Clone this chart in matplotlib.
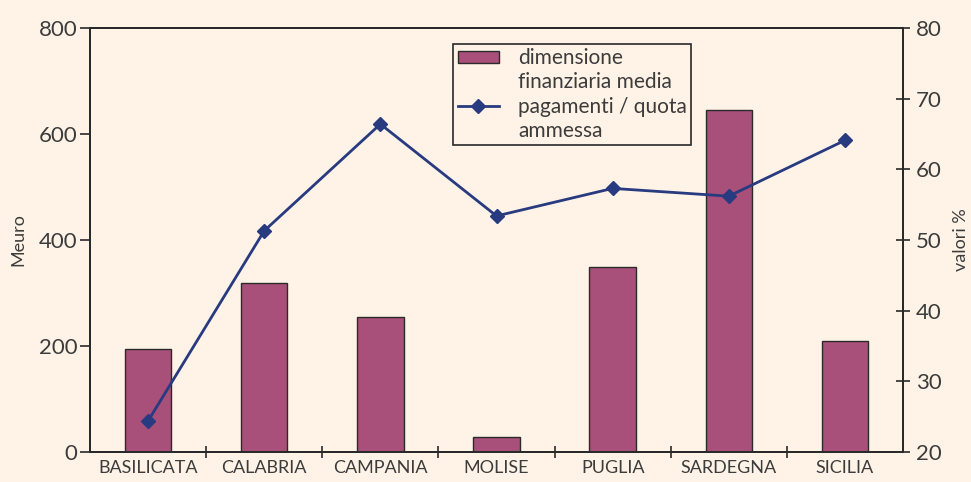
import matplotlib
matplotlib.use("Agg")
import matplotlib.pyplot as plt
from matplotlib.lines import Line2D
import numpy as np

regions = ["BASILICATA", "CALABRIA", "CAMPANIA", "MOLISE", "PUGLIA", "SARDEGNA", "SICILIA"]
dimensione = [194, 319, 255, 28, 349, 645, 209]
pagamenti = [24.4, 51.3, 66.4, 53.4, 57.3, 56.2, 64.1]

bg = "#FEF3E6"
bar_color = "#A84F7A"
line_color = "#283A80"
txt = "#3c3c3c"

plt.rcParams['font.family'] = ['Lato', 'DejaVu Sans']

fig = plt.figure(figsize=(9.71, 4.82), dpi=100, facecolor=bg)
ax = fig.add_axes([0.0927, 0.0622, 0.8373, 0.8798])
ax.set_facecolor(bg)
x = np.arange(len(regions))
bars = ax.bar(x, dimensione, width=0.4, color=bar_color, edgecolor="#2a2a2a", linewidth=1.0, zorder=2)
ax.set_xlim(-0.5, len(regions) - 0.5)
ax.set_ylim(0, 800)
ax.set_yticks([0, 200, 400, 600, 800])
ax.set_xticks(x)
ax.set_xticklabels(regions)
ax.set_xticks(np.arange(0.5, len(regions) - 0.5, 1), minor=True)
ax.tick_params(axis='x', which='major', length=0, pad=6, labelsize=13, labelcolor=txt)
ax.tick_params(axis='x', which='minor', length=9, direction='inout', width=1.2, color="#2a2a2a")
ax.tick_params(axis='y', length=7, direction='out', width=1.2, labelsize=16, labelcolor=txt,
               color="#2a2a2a", pad=2)
for s in ax.spines.values():
    s.set_color("#2a2a2a")
    s.set_linewidth(1.4)
ax.set_ylabel("Meuro", fontsize=13, color=txt, labelpad=9)

ax2 = ax.twinx()
ax2.set_ylim(20, 80)
ax2.set_yticks([20, 30, 40, 50, 60, 70, 80])
line, = ax2.plot(x, pagamenti, color=line_color, linewidth=2, marker='D', markersize=7, zorder=3)
ax2.tick_params(axis='y', length=10, direction='inout', width=1.2, labelsize=16, labelcolor=txt,
                color="#2a2a2a", pad=4)
for s in ax2.spines.values():
    s.set_color("#2a2a2a")
    s.set_linewidth(1.4)
ax2.set_ylabel("valori %", fontsize=13, color=txt, rotation=90, labelpad=8)

blank = Line2D([], [], linestyle='none', marker=None)
leg = ax2.legend([bars, blank, line, blank],
                 ["dimensione", "finanziaria media", "pagamenti / quota", "ammessa"],
                 loc='upper left', bbox_to_anchor=(0.447, 0.962), fontsize=15, frameon=True,
                 fancybox=False, edgecolor="#2a2a2a", facecolor=bg, framealpha=1,
                 handlelength=2.0, handleheight=0.5, labelspacing=0.2, borderpad=0.2,
                 handletextpad=0.9, borderaxespad=0)
for t in leg.get_texts():
    t.set_color(txt)
leg.get_frame().set_linewidth(1.2)

fig.savefig("out.png", dpi=100, facecolor=bg)
